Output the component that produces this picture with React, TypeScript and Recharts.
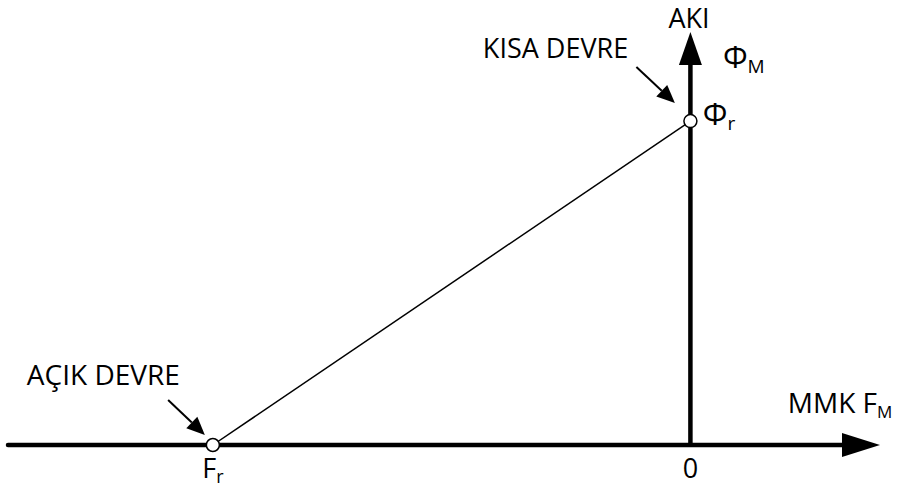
import React from "react";
import {
  ComposedChart,
  Line,
  XAxis,
  YAxis,
  ReferenceLine,
  ReferenceDot,
} from "recharts";

// F_r sits at -1 on the MMK axis, Φ_r at 1 on the flux axis
const loadLine = [
  { x: -1, y: 0 },
  { x: 0, y: 1 },
];
const xTicks = [-1, 0];
const xTickLabels: Record<string, [string, string]> = {
  "-1": ["F", "r"],
  "0": ["0", ""],
};
const xDomain = [-1.429, 0.397];
const yDomain = [0, 1.275];

// text annotations, in data units
const labels = [
  { x: -0.4346, y: 1.194, text: "KISA DEVRE", sub: "", size: 27, anchor: "start" },
  { x: -1.3895, y: 0.185, text: "AÇIK DEVRE", sub: "", size: 28, anchor: "start" },
  { x: -0.003, y: 1.287, text: "AKI", sub: "", size: 27, anchor: "middle" },
  { x: 0.068, y: 1.164, text: "Φ", sub: "M", size: 31, anchor: "start" },
  { x: 0.026, y: 0.988, text: "Φ", sub: "r", size: 31, anchor: "start" },
  { x: 0.204, y: 0.099, text: "MMK F", sub: "M", size: 28, anchor: "start" },
];

// pointer arrows: [tail, tip]
const kisaArrow = [
  { x: -0.1131, y: 1.1667 },
  { x: -0.0325, y: 1.0556 },
];
const acikArrow = [
  { x: -1.0937, y: 0.1389 },
  { x: -1.0168, y: 0.0309 },
];

const FONT = "'Open Sans', sans-serif";

function arrow(headLen: number, headHalf: number, width: number, cap: "round" | "butt") {
  return (props: any) => {
    const { x1, y1, x2, y2 } = props;
    const dx = x2 - x1;
    const dy = y2 - y1;
    const len = Math.hypot(dx, dy) || 1;
    const ux = dx / len;
    const uy = dy / len;
    const bx = x2 - ux * headLen;
    const by = y2 - uy * headLen;
    const px = -uy * headHalf;
    const py = ux * headHalf;
    return (
      <g>
        <line x1={x1} y1={y1} x2={bx} y2={by} stroke="#000" strokeWidth={width} strokeLinecap={cap} />
        <polygon points={`${x2},${y2} ${bx + px},${by + py} ${bx - px},${by - py}`} fill="#000" />
      </g>
    );
  };
}

function XTick(props: any) {
  const { x, y, payload } = props;
  const [main, sub] = xTickLabels[String(payload.value)] ?? [String(payload.value), ""];
  return (
    <text x={x} y={y + 25} textAnchor="middle" fontFamily={FONT} fontSize={27} fill="#000">
      <tspan>{main}</tspan>
      {sub && (
        <tspan fontSize={18} dy={5}>
          {sub}
        </tspan>
      )}
    </text>
  );
}

export default function App() {
  return (
    <div style={{ position: "absolute", left: 0, top: 0, background: "#fff" }}>
      <ComposedChart
        width={902}
        height={491}
        margin={{ top: 32, right: 22, bottom: 16, left: 8 }}
      >
        <XAxis
          type="number"
          dataKey="x"
          domain={xDomain}
          ticks={xTicks}
          tick={<XTick />}
          axisLine={false}
          tickLine={false}
          height={30}
        />
        <YAxis type="number" dataKey="y" domain={yDomain} hide />
        <ReferenceLine
          segment={[
            { x: xDomain[0], y: 0 },
            { x: xDomain[1], y: 0 },
          ]}
          ifOverflow="visible"
          shape={arrow(38, 12, 4.5, "round")}
        />
        <ReferenceLine
          segment={[
            { x: 0, y: 0 },
            { x: 0, y: yDomain[1] },
          ]}
          ifOverflow="visible"
          shape={arrow(33, 11.5, 4.5, "butt")}
        />
        <ReferenceLine segment={kisaArrow} ifOverflow="visible" shape={arrow(18, 8, 2, "butt")} />
        <ReferenceLine segment={acikArrow} ifOverflow="visible" shape={arrow(18, 8, 2, "butt")} />
        <Line
          data={loadLine}
          dataKey="y"
          stroke="#000"
          strokeWidth={1.5}
          dot={{ r: 6.5, fill: "#fff", stroke: "#000", strokeWidth: 1.5 }}
          isAnimationActive={false}
        />
        {labels.map((l, i) => (
          <ReferenceDot
            key={i}
            x={l.x}
            y={l.y}
            ifOverflow="visible"
            shape={(p: any) => (
              <text
                x={p.cx}
                y={p.cy}
                textAnchor={l.anchor as any}
                fontFamily={FONT}
                fontSize={l.size}
                fill="#000"
              >
                <tspan>{l.text}</tspan>
                {l.sub && (
                  <tspan fontSize={Math.round(l.size * 0.6)} dy={5}>
                    {l.sub}
                  </tspan>
                )}
              </text>
            )}
          />
        ))}
      </ComposedChart>
    </div>
  );
}
